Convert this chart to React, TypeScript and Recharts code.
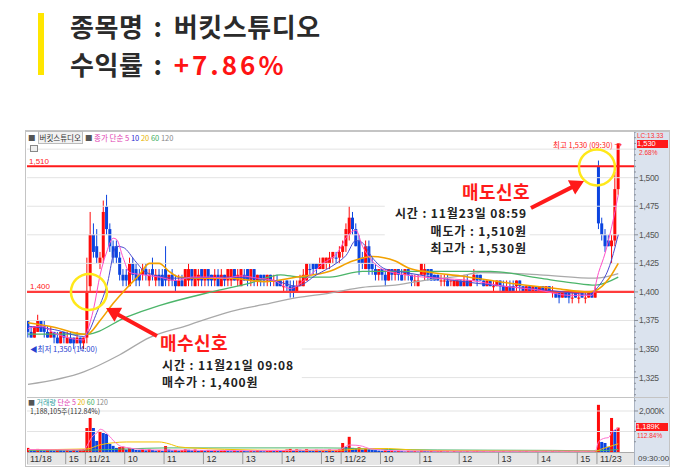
import React from "react";
import { ComposedChart, Bar, Line, XAxis, YAxis, ReferenceLine, ReferenceDot } from "recharts";

const RED = "#ff0a0a";
const BLUE = "#0b44e0";
const KR = "'Noto Sans CJK KR', 'Noto Sans', sans-serif";
const SMALL = "'Liberation Sans', 'DejaVu Sans', sans-serif";

// 5분봉 [시가, 고가, 저가, 종가] : 11/18 14:00 ~ 11/23 09:30
const candles: [number, number, number, number][] = [
  // 11/18
  [1375, 1375, 1360, 1365], [1365, 1370, 1360, 1360], [1360, 1370, 1360, 1370], [1365, 1380, 1365, 1375],
  [1375, 1375, 1365, 1365], [1370, 1375, 1360, 1365], [1365, 1370, 1360, 1360], [1360, 1370, 1360, 1365],
  [1365, 1365, 1355, 1360], [1360, 1365, 1355, 1355], [1355, 1365, 1355, 1365], [1365, 1365, 1355, 1360],
  [1355, 1365, 1355, 1360], [1360, 1365, 1355, 1355], [1360, 1360, 1350, 1355], [1355, 1365, 1355, 1360],
  [1360, 1360, 1350, 1355], [1355, 1360, 1350, 1360],
  // 11/21
  [1360, 1430, 1355, 1400], [1405, 1470, 1400, 1450], [1450, 1460, 1430, 1435], [1440, 1455, 1425, 1430],
  [1425, 1435, 1420, 1430], [1430, 1480, 1425, 1470], [1475, 1485, 1450, 1455], [1455, 1460, 1435, 1440],
  [1440, 1445, 1425, 1430], [1440, 1445, 1425, 1430], [1430, 1435, 1410, 1415], [1415, 1420, 1405, 1410],
  [1415, 1420, 1405, 1410], [1405, 1430, 1405, 1425], [1425, 1430, 1410, 1415], [1420, 1425, 1405, 1410],
  [1415, 1420, 1405, 1410], [1415, 1425, 1410, 1420], [1420, 1425, 1410, 1415], [1410, 1420, 1405, 1415],
  [1420, 1430, 1410, 1415], [1410, 1420, 1405, 1415], [1415, 1420, 1405, 1410], [1415, 1420, 1405, 1405],
  [1420, 1440, 1405, 1410], [1410, 1415, 1405, 1415], [1415, 1420, 1405, 1410], [1410, 1415, 1400, 1405],
  [1405, 1415, 1405, 1410], [1410, 1415, 1405, 1405], [1405, 1420, 1405, 1420], [1410, 1425, 1405, 1420],
  [1420, 1420, 1405, 1410], [1405, 1420, 1405, 1420], [1410, 1420, 1405, 1415], [1420, 1420, 1405, 1410],
  [1410, 1420, 1405, 1420], [1420, 1420, 1405, 1410], [1415, 1415, 1405, 1410], [1410, 1420, 1405, 1415],
  [1415, 1420, 1405, 1405], [1405, 1420, 1405, 1415], [1415, 1415, 1405, 1410], [1410, 1420, 1405, 1420],
  [1410, 1420, 1405, 1420], [1420, 1420, 1410, 1410], [1410, 1420, 1405, 1415], [1405, 1420, 1405, 1420],
  [1415, 1420, 1410, 1410], [1420, 1420, 1405, 1410], [1410, 1420, 1405, 1420], [1420, 1420, 1405, 1410],
  [1410, 1415, 1405, 1415], [1415, 1415, 1405, 1410], [1415, 1415, 1405, 1410], [1410, 1415, 1405, 1415],
  [1415, 1415, 1405, 1410], [1410, 1415, 1405, 1410], [1410, 1415, 1405, 1405], [1410, 1410, 1405, 1405],
  [1405, 1410, 1400, 1405], [1410, 1410, 1400, 1405], [1405, 1410, 1395, 1400], [1405, 1410, 1395, 1400],
  [1400, 1410, 1400, 1405], [1405, 1415, 1405, 1410], [1405, 1420, 1405, 1415], [1410, 1425, 1410, 1425],
  [1420, 1425, 1415, 1420], [1425, 1425, 1415, 1420], [1425, 1425, 1415, 1420], [1420, 1430, 1420, 1425],
  [1420, 1430, 1420, 1430], [1425, 1430, 1420, 1430], [1425, 1435, 1420, 1430], [1430, 1435, 1425, 1435],
  [1430, 1435, 1425, 1430], [1430, 1440, 1425, 1435],
  // 11/22
  [1435, 1445, 1430, 1440], [1440, 1460, 1435, 1455], [1450, 1475, 1445, 1465], [1465, 1470, 1450, 1455],
  [1455, 1460, 1440, 1440], [1445, 1450, 1415, 1425], [1430, 1435, 1420, 1425], [1420, 1445, 1420, 1440],
  [1440, 1445, 1415, 1420], [1425, 1430, 1415, 1420], [1420, 1425, 1410, 1415], [1415, 1420, 1410, 1420],
  [1420, 1420, 1410, 1415], [1415, 1420, 1405, 1410], [1410, 1420, 1410, 1420], [1420, 1420, 1410, 1415],
  [1415, 1420, 1410, 1420], [1420, 1420, 1410, 1415], [1415, 1420, 1410, 1410], [1415, 1420, 1410, 1420],
  [1420, 1420, 1410, 1415], [1415, 1415, 1405, 1410], [1410, 1415, 1405, 1410], [1405, 1415, 1405, 1410],
  [1415, 1425, 1415, 1425], [1415, 1425, 1410, 1420], [1420, 1420, 1410, 1415], [1420, 1420, 1410, 1410],
  [1415, 1415, 1410, 1410], [1415, 1415, 1410, 1410], [1410, 1415, 1405, 1410], [1410, 1415, 1405, 1410],
  [1410, 1415, 1405, 1405], [1410, 1410, 1405, 1410], [1405, 1410, 1405, 1410], [1405, 1410, 1405, 1410],
  [1410, 1410, 1405, 1405], [1405, 1415, 1405, 1410], [1410, 1415, 1405, 1405], [1405, 1410, 1405, 1410],
  [1410, 1420, 1410, 1415], [1415, 1415, 1405, 1410], [1415, 1415, 1410, 1410], [1410, 1410, 1405, 1405],
  [1405, 1410, 1405, 1410], [1410, 1410, 1405, 1405], [1405, 1410, 1400, 1405], [1405, 1410, 1405, 1410],
  [1410, 1410, 1400, 1405], [1405, 1410, 1400, 1400], [1400, 1410, 1400, 1405], [1405, 1410, 1400, 1400],
  [1405, 1410, 1400, 1400], [1405, 1410, 1400, 1410], [1410, 1410, 1400, 1405], [1405, 1405, 1400, 1400],
  [1400, 1405, 1400, 1405], [1405, 1405, 1400, 1400], [1400, 1405, 1400, 1405], [1405, 1405, 1400, 1400],
  [1400, 1405, 1400, 1405], [1405, 1405, 1400, 1400], [1400, 1405, 1400, 1405], [1405, 1405, 1400, 1400],
  [1400, 1405, 1395, 1400], [1400, 1400, 1395, 1395], [1400, 1400, 1390, 1395], [1395, 1400, 1395, 1400],
  [1400, 1400, 1395, 1395], [1400, 1400, 1390, 1395], [1395, 1400, 1390, 1395], [1400, 1400, 1395, 1395],
  [1395, 1400, 1390, 1395], [1400, 1400, 1395, 1395], [1395, 1400, 1390, 1395], [1395, 1400, 1395, 1400],
  [1400, 1400, 1395, 1395], [1395, 1405, 1395, 1400],
  // 11/23
  [1510, 1515, 1455, 1460], [1460, 1465, 1445, 1450], [1450, 1455, 1435, 1440], [1445, 1450, 1440, 1440],
  [1440, 1450, 1425, 1445], [1445, 1505, 1440, 1490], [1490, 1530, 1485, 1530],
];

// 거래량 (천주)
const volumes = [
  200, 120, 90, 150, 100, 80, 120, 90, 70, 110, 100, 80, 90, 60, 100, 80, 120, 140,
  1170, 1660, 1170, 540, 1020, 925, 880, 390, 300, 200, 240, 260,
  120, 200, 150, 100, 90, 110, 80, 130, 100, 70, 90, 60,
  290, 120, 80, 100, 70, 90, 130, 110, 80, 120, 60, 90,
  70, 100, 60, 80, 50, 70, 90, 60, 40, 80, 50, 70,
  60, 40, 70, 50, 90, 60, 40, 50, 80, 60, 100, 70,
  90, 120, 150, 100, 130, 110, 80, 140, 90, 70, 110, 60,
  90, 80, 120, 70, 100, 130,
  440, 250, 740, 200, 190, 230, 120, 150, 130, 110, 90, 70,
  60, 80, 50, 70, 40, 60, 50, 30, 60, 40, 50, 30,
  90, 60, 40, 50, 30, 40, 60, 30, 40, 20, 50, 30,
  40, 30, 50, 20, 40, 60, 30, 40, 20, 30, 40, 20,
  30, 50, 20, 40, 30, 20, 40, 30, 50, 20, 30, 40,
  20, 30, 40, 20, 50, 30, 40, 20, 30, 40, 20, 30,
  40, 20, 30, 50, 30, 60,
  2300, 490, 440, 250, 1660, 1070, 1189,
];

// 이동평균 (봉 번호, 값) - 그림에서 읽은 값
const ma5Pts = [[0, 1368], [4, 1370], [8, 1364], [12, 1360], [17, 1358], [18, 1365], [20, 1385], [22, 1415], [24, 1435], [26, 1447], [27, 1446], [29, 1430], [31, 1417], [35, 1415], [40, 1413], [45, 1410], [50, 1413], [55, 1413], [60, 1412], [65, 1414], [70, 1412], [75, 1410], [80, 1403], [85, 1412], [90, 1425], [94, 1433], [98, 1451], [100, 1454], [102, 1440], [105, 1427], [108, 1420], [115, 1415], [125, 1412], [135, 1410], [145, 1405], [155, 1402], [165, 1397], [172, 1397], [174, 1417], [176, 1434], [178, 1457], [180, 1485]];
const ma10Pts = [[0, 1370], [8, 1367], [17, 1361], [18, 1363], [21, 1382], [24, 1405], [27, 1440], [29, 1439], [33, 1426], [36, 1417], [45, 1412], [60, 1413], [75, 1410], [82, 1405], [88, 1415], [94, 1425], [97, 1432], [100, 1445], [102, 1443], [105, 1430], [109, 1420], [115, 1417], [130, 1410], [145, 1405], [160, 1401], [171, 1398], [174, 1405], [177, 1420], [180, 1450]];
const ma20Pts = [[0, 1373], [8, 1369], [17, 1363], [18, 1363], [22, 1375], [26, 1390], [30, 1403], [34, 1415], [37, 1425], [40, 1425], [43, 1418], [46, 1413], [50, 1412], [62, 1412], [72, 1409], [82, 1413], [92, 1418], [99, 1427], [105, 1431], [112, 1427], [116, 1421], [123, 1417], [132, 1414], [146, 1408], [161, 1403], [171, 1400], [173, 1401], [177, 1411], [180, 1425]];
const ma60Pts = [[0, 1363], [18, 1363], [30, 1378], [40, 1388], [56, 1400], [68, 1408], [77, 1415], [83, 1413], [92, 1413], [102, 1418], [123, 1418], [141, 1418], [156, 1412], [166, 1408], [173, 1406], [180, 1413]];
const ma120Pts = [[0, 1319], [17, 1330], [28, 1345], [37, 1360], [49, 1371], [62, 1383], [72, 1389], [82, 1395], [92, 1399], [102, 1404], [112, 1406], [123, 1411], [132, 1414], [138, 1417], [156, 1415], [173, 1412], [180, 1416]];

const vma5Pts = [[0, 120], [17, 100], [18, 300], [19, 600], [20, 820], [21, 920], [22, 1110], [23, 1060], [24, 900], [25, 750], [26, 560], [27, 420], [28, 300], [30, 220], [33, 150], [38, 100], [50, 90], [70, 60], [90, 100], [95, 100], [96, 180], [98, 340], [100, 330], [102, 280], [104, 170], [108, 100], [115, 50], [140, 35], [173, 40], [174, 500], [176, 680], [177, 700], [178, 950], [180, 1150]];
const vma20Pts = [[0, 110], [18, 150], [22, 350], [26, 450], [30, 490], [40, 490], [43, 400], [46, 250], [50, 200], [60, 130], [80, 80], [95, 80], [100, 140], [110, 170], [117, 100], [130, 60], [173, 40], [175, 150], [180, 400]];
const vma60Pts = [[0, 80], [18, 90], [30, 150], [42, 200], [90, 200], [96, 190], [105, 150], [110, 120], [140, 90], [160, 80], [173, 60], [180, 120]];

// 시간축 눈금 (봉 번호, 표시)
const timeTickIdx = [0, 12, 18, 30, 42, 54, 66, 78, 90, 96, 108, 120, 132, 144, 156, 168, 174];
const timeTickText = ["11/18", "15", "11/21", "10", "11", "12", "13", "14", "15", "11/22", "10", "11", "12", "13", "14", "15", "11/23"];

const priceLabels = [1325, 1350, 1375, 1400, 1425, 1450, 1475, 1500];

const X_MIN = -0.3;
const X_MAX = 184.8;

const rows: any[] = candles.map(([o, h, l, c], i) => ({
  i, o, h, l, c,
  up: c > o || (c === o && i > 0 && c >= candles[i - 1][3]),
  vol: volumes[i],
  volUp: i === 0 || volumes[i] >= volumes[i - 1],
}));
const put = (pts: number[][], key: string) => pts.forEach(([i, v]) => { rows[i][key] = v; });
put(ma5Pts, "ma5"); put(ma10Pts, "ma10"); put(ma20Pts, "ma20"); put(ma60Pts, "ma60"); put(ma120Pts, "ma120");
put(vma5Pts, "vma5"); put(vma20Pts, "vma20"); put(vma60Pts, "vma60");

const minorTicks: number[] = [];
for (let p = 1310; p <= 1540; p += 5) minorTicks.push(p);
const timeTicks = timeTickIdx.map((i) => Math.max(X_MIN, i - 0.5));

function Candle(props: any) {
  const { x, y, width, height, payload } = props;
  const { o, h, l, c, up } = payload;
  const color = up ? RED : BLUE;
  const top = Math.min(y, y + height);
  const hh = Math.abs(height);
  const span = h - l;
  const py = (v: number) => (span === 0 ? top : top + ((h - v) / span) * hh);
  const bTop = py(Math.max(o, c));
  const bH = Math.max(1, py(Math.min(o, c)) - bTop);
  const cx = x + width / 2;
  return (
    <g>
      <line x1={cx} x2={cx} y1={top} y2={top + hh} stroke={color} strokeWidth={1} />
      <rect x={x} y={bTop} width={width} height={bH} fill={color} />
    </g>
  );
}

function VolBar(props: any) {
  const { x, y, width, height, payload } = props;
  return <rect x={x} y={y} width={width} height={Math.max(0, height)} fill={payload.volUp ? RED : BLUE} />;
}

function PriceTick(props: any) {
  const { x, y, payload } = props;
  const v = payload.value;
  const major = priceLabels.includes(v);
  return (
    <g>
      <line x1={x} x2={x + (major ? 4 : 2)} y1={y} y2={y} stroke="#8a8f98" strokeWidth={1} />
      {major && (
        <text x={x + 5} y={y + 3} fontSize={8.5} fill="#555" fontFamily={SMALL} letterSpacing={-0.3}>
          {v.toLocaleString("en-US")}
        </text>
      )}
    </g>
  );
}

function VolTick(props: any) {
  const { x, y, payload } = props;
  const v = payload.value;
  return (
    <g>
      <line x1={x} x2={x + (v === 2000 ? 4 : 2)} y1={y} y2={y} stroke="#8a8f98" strokeWidth={1} />
      {v === 2000 && (
        <text x={x + 5} y={y + 3} fontSize={8.5} fill="#555" fontFamily={SMALL} letterSpacing={-0.3}>
          2,000K
        </text>
      )}
    </g>
  );
}

function TimeTick(props: any) {
  const { x, y, index } = props;
  return (
    <g>
      <line x1={x} x2={x} y1={y} y2={y + 12} stroke="#9a9a9a" strokeWidth={1} />
      <text x={x + 3} y={y + 9.5} fontSize={9} fill="#333" fontFamily={SMALL}>
        {timeTickText[index]}
      </text>
    </g>
  );
}

const gridRows: [number, number, number][] = [
  [1525, X_MIN, X_MAX], [1500, X_MIN, X_MAX], [1475, X_MIN, 108.8], [1475, 153, X_MAX],
  [1450, X_MIN, 108.8], [1450, 153, X_MAX], [1425, X_MIN, X_MAX], [1375, X_MIN, X_MAX],
  [1350, 83.5, X_MAX], [1325, 83.5, X_MAX],
];

function arrow(x1: number, y1: number, x2: number, y2: number) {
  const dx = x2 - x1, dy = y2 - y1;
  const len = Math.hypot(dx, dy);
  const ux = dx / len, uy = dy / len;
  const nx = -uy, ny = ux;
  const hl = 14, hw = 8, sw = 2;
  const bx = x2 - ux * hl, by = y2 - uy * hl;
  const pts = [
    [x1 + nx * sw, y1 + ny * sw], [bx + nx * sw, by + ny * sw], [bx + nx * hw, by + ny * hw], [x2, y2],
    [bx - nx * hw, by - ny * hw], [bx - nx * sw, by - ny * sw], [x1 - nx * sw, y1 - ny * sw],
  ];
  return pts.map((p) => p.join(",")).join(" ");
}

const abs = (s: React.CSSProperties): React.CSSProperties => ({ position: "absolute", ...s });
const colon = <span style={{ margin: "0 11px 0 10px" }}>:</span>;
const note = (s: React.CSSProperties): React.CSSProperties =>
  abs({ fontSize: 12, fontWeight: 700, color: "#222", lineHeight: "17px", whiteSpace: "nowrap", letterSpacing: 0.9, ...s });
const signal = (s: React.CSSProperties): React.CSSProperties =>
  abs({ fontSize: 18, fontWeight: 700, color: "#ff1a1a", lineHeight: "26px", whiteSpace: "nowrap", letterSpacing: 0.4, ...s });

export default function App() {
  const line = (key: string, color: string, w = 1.2) => (
    <Line dataKey={key} stroke={color} strokeWidth={w} dot={false} activeDot={false} connectNulls type="monotone" isAnimationActive={false} />
  );
  return (
    <div style={abs({ left: 0, top: 0, width: 700, height: 476, background: "#fff", overflow: "hidden", fontFamily: KR })}>
      {/* 제목 */}
      <div style={abs({ left: 38, top: 13, width: 6, height: 62, background: "#ffe600" })} />
      <div style={abs({ left: 70, top: 9, fontSize: 26, fontWeight: 700, color: "#2b2b2b", lineHeight: "34px", whiteSpace: "nowrap", letterSpacing: 0.6 })}>
        종목명{colon}버킷스튜디오
      </div>
      <div style={abs({ left: 70, top: 47, fontSize: 26, fontWeight: 700, color: "#2b2b2b", lineHeight: "34px", whiteSpace: "nowrap", letterSpacing: 0.6 })}>
        수익률{colon}<span style={{ color: "#ff1414", letterSpacing: 3 }}>+7.86%</span>
      </div>

      {/* 차트 틀 */}
      <div style={abs({ left: 25, top: 130, width: 643, height: 334, border: "1px solid #c4c4c4", borderTop: "2px solid #c4c4c4" })} />
      <div style={abs({ left: 634, top: 132, width: 34, height: 333, background: "#dbe3ee", borderLeft: "1px solid #aab3c2" })} />
      <div style={abs({ left: 27, top: 452, width: 607, height: 12, background: "#e6e6e6", borderTop: "1px solid #aaa" })} />
      <div style={abs({ left: 27, top: 397, width: 641, height: 1, background: "#c4c4c4" })} />

      {/* 가격 차트 */}
      <div style={abs({ left: 27, top: 132 })}>
        <ComposedChart width={641} height={265} data={rows} margin={{ top: 0, right: 0, bottom: 0, left: 0 }}>
          <XAxis type="number" dataKey="i" domain={[X_MIN, X_MAX]} hide allowDataOverflow />
          <YAxis orientation="right" width={34} domain={[1308, 1540]} ticks={minorTicks} interval={0} tick={<PriceTick />} tickLine={false} axisLine={false} tickSize={0} tickMargin={0} allowDataOverflow />
          {gridRows.map(([p, a, b], k) => (
            <ReferenceLine key={k} segment={[{ x: a, y: p }, { x: b, y: p }]} stroke="#e3e3e3" strokeWidth={1} />
          ))}
          <ReferenceLine y={1510} stroke="#ff1a1a" strokeWidth={1.8} label={{ value: "1,510", position: "insideBottomLeft", offset: 2, fill: "#ff2020", fontSize: 8, fontFamily: SMALL }} />
          <ReferenceLine y={1400} stroke="#ff3b3b" strokeWidth={2.3} label={{ value: "1,400", position: "insideBottomLeft", offset: 3, fill: "#ff2020", fontSize: 8, fontFamily: SMALL }} />
          {line("ma120", "#a9a9a9", 1.3)}
          {line("ma60", "#4cb56a", 1.3)}
          {line("ma20", "#f2a100", 1.6)}
          <Bar dataKey={(d: any) => [d.l, d.h]} barSize={3} shape={(p: any) => <Candle {...p} />} isAnimationActive={false} />
          {line("ma10", "#4a4ad0", 1)}
          {line("ma5", "#ff4fc8", 1)}
          <ReferenceDot x={18.6} y={1400} r={18} fill="none" stroke="#ffe81a" strokeWidth={2.5} />
          <ReferenceDot x={173.5} y={1509} r={18} fill="none" stroke="#ffe81a" strokeWidth={2.5} />
        </ComposedChart>
      </div>

      {/* 거래량 차트 */}
      <div style={abs({ left: 27, top: 398 })}>
        <ComposedChart width={641} height={67} data={rows} margin={{ top: 0, right: 0, bottom: 0, left: 0 }}>
          <XAxis type="number" dataKey="i" domain={[X_MIN, X_MAX]} ticks={timeTicks} interval={0} tick={<TimeTick />} height={13} axisLine={false} tickLine={false} tickSize={0} tickMargin={0} allowDataOverflow />
          <YAxis orientation="right" width={34} domain={[0, 2634]} ticks={[500, 1000, 1500, 2000, 2500]} interval={0} tick={<VolTick />} axisLine={false} tickLine={false} tickSize={0} tickMargin={0} allowDataOverflow />
          <ReferenceLine y={1000} stroke="#e3e3e3" />
          <ReferenceLine y={2000} stroke="#e3e3e3" />
          <Bar dataKey="vol" barSize={3} shape={(p: any) => <VolBar {...p} />} isAnimationActive={false} />
          {line("vma60", "#4cb56a", 1)}
          {line("vma20", "#f2c200", 1)}
          {line("vma5", "#ff6fd0", 1)}
        </ComposedChart>
      </div>

      {/* 범례 */}
      <div style={abs({ left: 28, top: 133, fontSize: 7.5, lineHeight: "10px", whiteSpace: "nowrap", fontFamily: KR })}>
        <span style={{ color: "#555" }}>■</span>
        <span style={{ border: "1px solid #bbb", background: "#f2f2f2", color: "#333", padding: "0 1px", margin: "0 2px" }}>버킷스튜디오</span>
        <span style={{ color: "#555" }}>■ </span>
        <span style={{ color: "#e03cb0" }}>종가 단순 5</span>{" "}
        <span style={{ color: "#2a2ad0" }}>10</span>{" "}
        <span style={{ color: "#e8b400" }}>20</span>{" "}
        <span style={{ color: "#3cae5c" }}>60</span>{" "}
        <span style={{ color: "#888" }}>120</span>
      </div>
      <div style={abs({ left: 30, top: 145, width: 6, height: 5, border: "1px solid #888", background: "#eee" })} />
      <div style={abs({ left: 28, top: 398, fontSize: 7, lineHeight: "8px", whiteSpace: "nowrap", fontFamily: KR })}>
        <span style={{ color: "#555" }}>■ </span>
        <span style={{ color: "#2aa0a0" }}>거래량</span>{" "}
        <span style={{ color: "#e03cb0" }}>단순 5</span>{" "}
        <span style={{ color: "#e8b400" }}>20</span>{" "}
        <span style={{ color: "#3cae5c" }}>60</span>{" "}
        <span style={{ color: "#888" }}>120</span>
      </div>
      <div style={abs({ left: 30, top: 407, fontSize: 7, lineHeight: "8px", whiteSpace: "nowrap", color: "#333", fontFamily: KR })}>
        1,188,105주(112.84%)
      </div>

      {/* 축 위 표시 */}
      <div style={abs({ left: 637, top: 132, fontSize: 6.5, lineHeight: "7px", color: "#ff3030", fontFamily: SMALL })}>LC:13.33</div>
      <div style={abs({ left: 637, top: 140, width: 31, height: 8, background: "#ff1a1a", color: "#fff", fontSize: 7.5, lineHeight: "8px", fontFamily: SMALL })}>1,530</div>
      <div style={abs({ left: 639, top: 149, fontSize: 6.5, lineHeight: "7px", color: "#ff3030", fontFamily: SMALL })}>2.68%</div>
      <div style={abs({ left: 636, top: 423, width: 32, height: 8, background: "#ff1a1a", color: "#fff", fontSize: 7.5, lineHeight: "8px", fontFamily: SMALL })}>1,189K</div>
      <div style={abs({ left: 637, top: 432, fontSize: 6.5, lineHeight: "7px", color: "#ff3030", fontFamily: SMALL })}>112.84%</div>
      <div style={abs({ left: 638, top: 453, fontSize: 8, lineHeight: "11px", color: "#444", fontFamily: SMALL })}>09:30:00</div>

      {/* 최고/최저 */}
      <div style={abs({ left: 553, top: 140, fontSize: 7.5, lineHeight: "9px", color: "#ff2020", whiteSpace: "nowrap", fontFamily: KR })}>최고 1,530 (09:30) →</div>
      <div style={abs({ left: 30, top: 344, fontSize: 7.5, lineHeight: "9px", color: "#2a40d0", whiteSpace: "nowrap", fontFamily: KR })}>◀최저 1,350 (14:00)</div>

      {/* 매수 신호 */}
      <div style={signal({ left: 160, top: 329 })}>매수신호</div>
      <div style={note({ left: 162, top: 355.5 })}>시간 : 11월21일 09:08</div>
      <div style={note({ left: 162, top: 373 })}>매수가 : 1,400원</div>

      {/* 매도 신호 */}
      <div style={signal({ left: 462, top: 177.5 })}>매도신호</div>
      <div style={note({ left: 356, top: 204, width: 171, textAlign: "right" })}>시간 : 11월23일 08:59</div>
      <div style={note({ left: 356, top: 221.5, width: 171, textAlign: "right" })}>매도가 : 1,510원</div>
      <div style={note({ left: 356, top: 239, width: 171, textAlign: "right" })}>최고가 : 1,530원</div>

      <svg width={700} height={476} style={abs({ left: 0, top: 0, pointerEvents: "none" })}>
        <polygon points={arrow(157, 336, 106, 308)} fill="#ff1a1a" />
        <polygon points={arrow(531, 208, 584, 181)} fill="#ff1a1a" />
      </svg>
    </div>
  );
}
